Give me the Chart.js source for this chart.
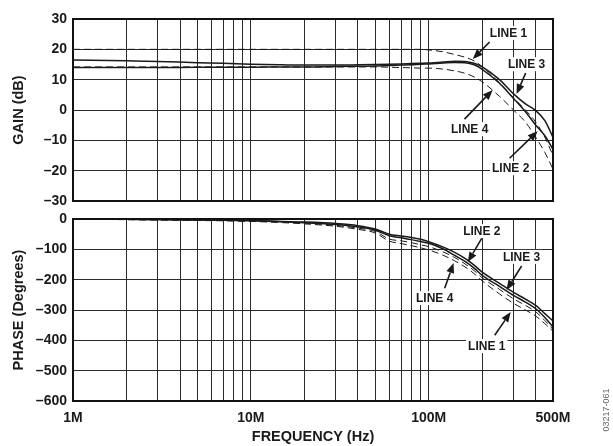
<!DOCTYPE html>
<html><head><meta charset="utf-8">
<script src="https://cdn.jsdelivr.net/npm/chart.js@4.4.1/dist/chart.umd.min.js"></script>
<style>
html,body{margin:0;padding:0;background:#fff;}
#wrap{position:relative;width:613px;height:446px;overflow:hidden;}
canvas{position:absolute;left:0;top:0;}
</style></head><body>
<div id="wrap">
<canvas id="gain" width="613" height="446"></canvas>
<canvas id="phase" width="613" height="446"></canvas>
</div>
<script>
// ---- data ----
const freqs = [1e6,2e6,3e6,5e6,7e6,10e6,15e6,20e6,30e6,40e6,50e6,60e6,70e6,80e6,90e6,100e6,120e6,140e6,160e6,180e6,200e6,250e6,300e6,350e6,400e6,450e6,500e6];

const gainLine1 = [20,20,20,20,20,20,20,20,20,20,20,20,20,20,20,19.8,19.2,18.3,17.4,16.2,14.3,9,4,0,-4,-9,-15];
const gainLine2 = [14,14,14,14.1,14.1,14.1,14.2,14.2,14.3,14.4,14.5,14.7,14.8,14.9,15.1,15.2,15.5,15.7,15.6,14.9,13.4,8.8,3.8,-0.6,-5,-8.5,-13];
const gainLine3 = [16.5,16.2,16,15.6,15.4,15.1,14.9,14.8,14.8,14.9,15,15.1,15.2,15.3,15.4,15.5,15.8,16.1,16,15.4,14.2,10,5.3,2,-0.2,-3.5,-9];
const gainLine4 = [14.2,14.2,14.2,14.2,14.2,14.2,14.2,14.2,14.2,14.2,14.2,14.1,14,13.9,13.8,13.8,13.5,12.9,12.1,10.9,9.3,4.5,0,-4,-9,-14,-19.5];

const phaseLine1 = [-1,-2,-3,-5,-6,-8,-12,-16,-24,-34,-46,-73,-81,-88,-95,-102,-119,-138,-158,-180,-204,-247,-278,-300,-320,-345,-370];
const phaseLine2 = [0,-1,-2,-3,-4,-6,-9,-12,-18,-26,-37,-55,-62,-68,-74,-80,-98,-120,-140,-162,-186,-222,-252,-274,-296,-325,-356];
const phaseLine3 = [0,-1,-2,-3,-4,-5,-8,-10,-15,-22,-33,-50,-56,-61,-67,-75,-92,-110,-130,-152,-175,-212,-242,-264,-285,-312,-336];
const phaseLine4 = [-1,-2,-3,-4,-5,-7,-10,-13,-21,-30,-41,-66,-72,-78,-85,-91,-108,-127,-148,-170,-194,-232,-263,-285,-306,-335,-364];

const xTicks = [1e6,2e6,3e6,4e6,5e6,6e6,7e6,8e6,9e6,10e6,20e6,30e6,40e6,50e6,60e6,70e6,80e6,90e6,100e6,200e6,300e6,400e6,500e6];
const xTickLabels = {1e6:'1M',1e7:'10M',1e8:'100M',5e8:'500M'};
const gainTicks = [-30,-20,-10,0,10,20,30];
const phaseTicks = [-600,-500,-400,-300,-200,-100,0];

const gainNotes = [
  {text:'LINE 1', at:[281e6,25.4], tail:[220e6,22.4], tip:[177e6,16.8]},
  {text:'LINE 3', at:[355e6,15.1], tail:[351e6,12.2], tip:[312e6,5.25]},
  {text:'LINE 4', at:[170e6,-6.3], tail:[159e6,-3], tip:[229e6,6.6]},
  {text:'LINE 2', at:[289e6,-19.2], tail:[285e6,-15.9], tip:[410e6,-7]}
];
const phaseNotes = [
  {text:'LINE 2', at:[199e6,-40], tail:[199e6,-63], tip:[166e6,-142]},
  {text:'LINE 3', at:[333e6,-125], tail:[333e6,-155], tip:[274e6,-234]},
  {text:'LINE 4', at:[108e6,-261], tail:[123e6,-228], tip:[138e6,-145]},
  {text:'LINE 1', at:[212e6,-419], tail:[235e6,-383], tip:[289e6,-307]}
];

// ---- styling ----
const FONT = "'Liberation Sans', Arial, Helvetica, sans-serif";
const INK = '#1a1a1a';
const GRID = '#2a2a2a';

function ds(label, data, dashed) {
  return {
    label, data: freqs.map((f,i)=>({x:f, y:data[i]})),
    borderColor: INK, borderWidth: dashed ? 1 : 1.5,
    borderDash: dashed ? [7,4] : [],
    pointRadius: 0, fill:false, cubicInterpolationMode:'monotone'
  };
}

const framePlugin = {
  id: 'frame',
  afterDatasetsDraw(chart, args, opts) {
    const {ctx, chartArea:a, scales:{x,y}} = chart;
    ctx.save();
    (opts.notes||[]).forEach(n => {
      const tx = x.getPixelForValue(n.tail[0]), ty = y.getPixelForValue(n.tail[1]);
      const px = x.getPixelForValue(n.tip[0]), py = y.getPixelForValue(n.tip[1]);
      const ang = Math.atan2(py-ty, px-tx);
      const L = 10, W = 4;
      const bx = px - L*Math.cos(ang), by = py - L*Math.sin(ang);
      ctx.strokeStyle = INK; ctx.fillStyle = INK; ctx.lineWidth = 1.6;
      ctx.beginPath(); ctx.moveTo(tx,ty); ctx.lineTo(bx,by); ctx.stroke();
      ctx.beginPath();
      ctx.moveTo(px,py);
      ctx.lineTo(bx + W*Math.sin(ang), by - W*Math.cos(ang));
      ctx.lineTo(bx - W*Math.sin(ang), by + W*Math.cos(ang));
      ctx.closePath(); ctx.fill();
      ctx.font = 'bold 12px ' + FONT;
      const cx = x.getPixelForValue(n.at[0]), cy = y.getPixelForValue(n.at[1]);
      const w = ctx.measureText(n.text).width;
      ctx.fillStyle = '#fff';
      ctx.fillRect(cx - w/2 - 2, cy - 7, w + 4, 14);
      ctx.fillStyle = INK; ctx.textAlign = 'center'; ctx.textBaseline = 'middle';
      ctx.fillText(n.text, cx, cy + 0.5);
    });
    ctx.strokeStyle = '#111'; ctx.lineWidth = 2;
    ctx.strokeRect(a.left, a.top, a.right - a.left, a.bottom - a.top);
    if (opts.code) {
      ctx.save();
      ctx.translate(607, 410);
      ctx.rotate(-Math.PI/2);
      ctx.font = '9px ' + FONT; ctx.fillStyle = '#666';
      ctx.textAlign = 'center'; ctx.textBaseline = 'middle';
      ctx.fillText(opts.code, 0, 0);
      ctx.restore();
    }
    ctx.restore();
  }
};

function makeChart(id, cfg) {
  const isBottom = cfg.bottom;
  return new Chart(document.getElementById(id), {
    type: 'line',
    data: { datasets: cfg.datasets },
    options: {
      responsive: false, animation: false, devicePixelRatio: 1,
      layout: { padding: { left: 0, right: 60, top: cfg.top, bottom: 0 } },
      plugins: { legend: {display:false}, tooltip: {enabled:false},
        frame: { notes: cfg.notes, code: cfg.code } },
      scales: {
        x: {
          type: 'logarithmic', min: 1e6, max: 5e8,
          afterBuildTicks: s => { s.ticks = xTicks.map(v => ({value: v})); },
          afterFit: s => { s.height = 446 - cfg.bottomEdge; },
          grid: { color: GRID, lineWidth: 1, drawTicks: false },
          border: { display: false },
          ticks: { display: isBottom, autoSkip: false, maxRotation: 0, padding: 9, color: INK,
                   font: { family: FONT, size: 14, weight: 'bold' },
                   callback: v => xTickLabels[v] || '' },
          title: { display: isBottom, text: 'FREQUENCY (Hz)', color: INK,
                   padding: {top:0, bottom:0},
                   font: { family: FONT, size: 14.5, weight: 'bold' } }
        },
        y: {
          min: cfg.ticks[0], max: cfg.ticks[cfg.ticks.length-1],
          afterBuildTicks: s => { s.ticks = cfg.ticks.map(v => ({value: v})); },
          afterFit: s => { s.width = 73; },
          grid: { color: GRID, lineWidth: 1, drawTicks: false },
          border: { display: false },
          ticks: { padding: 6, color: INK, font: { family: FONT, size: 14, weight: 'bold' },
                   callback: v => String(v).replace('-', '\u2013') },
          title: { display: true, text: cfg.title, color: INK, padding: {top: 10, bottom: 0},
                   font: { family: FONT, size: 14.5, weight: 'bold' } }
        }
      }
    },
    plugins: [framePlugin]
  });
}

makeChart('gain', {
  top: 19, bottomEdge: 201, ticks: gainTicks, title: 'GAIN (dB)', notes: gainNotes, bottom: false,
  datasets: [ds('LINE 1', gainLine1, true), ds('LINE 2', gainLine2, false), ds('LINE 3', gainLine3, false), ds('LINE 4', gainLine4, true)]
});
makeChart('phase', {
  top: 219, bottomEdge: 401, ticks: phaseTicks, title: 'PHASE (Degrees)', notes: phaseNotes, bottom: true, code: '03217-061',
  datasets: [ds('LINE 1', phaseLine1, true), ds('LINE 2', phaseLine2, false), ds('LINE 3', phaseLine3, false), ds('LINE 4', phaseLine4, true)]
});
</script>
</body></html>
